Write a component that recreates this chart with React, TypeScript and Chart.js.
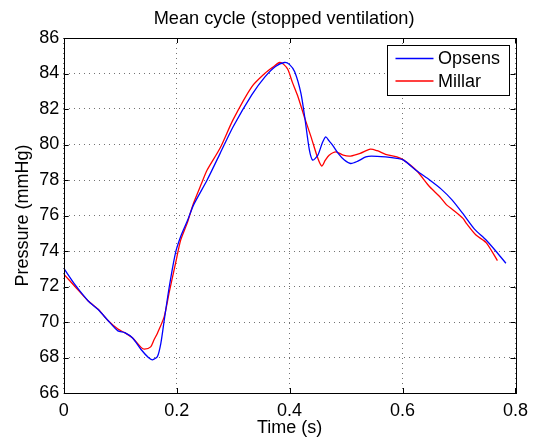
import React, { useEffect, useRef } from 'react';
import { Chart, registerables } from 'chart.js';

Chart.register(...registerables);

const titleText = 'Mean cycle (stopped ventilation)';
const xLabel = 'Time (s)';
const yLabel = 'Pressure (mmHg)';
const seriesNames = ['Opsens', 'Millar'];
const seriesColors = ['#0000ff', '#ff0000'];
const xTicks = [0, 0.2, 0.4, 0.6, 0.8];
const yTicks = [66, 68, 70, 72, 74, 76, 78, 80, 82, 84, 86];

const opsensTime = [
  0.0, 0.02, 0.043, 0.061, 0.078, 0.096, 0.108, 0.122, 0.137, 0.15, 0.157, 0.166, 0.172, 0.178,
  0.187, 0.198, 0.207, 0.219, 0.23, 0.254, 0.277, 0.3, 0.333, 0.356, 0.375, 0.391, 0.4, 0.409,
  0.42, 0.427, 0.435, 0.441, 0.45, 0.458, 0.464, 0.47, 0.476, 0.486, 0.497, 0.508, 0.52, 0.535,
  0.545, 0.57, 0.59, 0.602, 0.625, 0.648, 0.668, 0.688, 0.707, 0.727, 0.748, 0.765, 0.783,
];
const opsensPressure = [
  73.03, 72.1, 71.2, 70.7, 70.1, 69.5, 69.4, 69.1, 68.45, 68.0, 67.87, 68.06, 68.8, 70.1,
  72.0, 73.9, 74.8, 75.7, 76.6, 78.0, 79.5, 81.0, 82.8, 83.8, 84.4, 84.62, 84.5, 84.1,
  82.9, 81.5, 79.7, 79.12, 79.4, 80.1, 80.43, 80.2, 79.97, 79.5, 79.12, 78.93, 79.05, 79.3,
  79.35, 79.3, 79.22, 79.12, 78.52, 78.0, 77.5, 76.87, 76.1, 75.25, 74.62, 74.0, 73.31,
];

const millarTime = [
  0.0, 0.02, 0.043, 0.061, 0.078, 0.096, 0.108, 0.122, 0.137, 0.143, 0.154, 0.16, 0.166, 0.178,
  0.187, 0.198, 0.207, 0.219, 0.23, 0.244, 0.254, 0.277, 0.3, 0.333, 0.356, 0.37, 0.3825, 0.39,
  0.397, 0.405, 0.415, 0.427, 0.438, 0.45, 0.457, 0.463, 0.47, 0.482, 0.495, 0.508, 0.525, 0.543,
  0.555, 0.57, 0.59, 0.602, 0.625, 0.648, 0.666, 0.678, 0.69, 0.707, 0.713, 0.73, 0.748, 0.768,
];
const millarPressure = [
  72.7, 72.0, 71.2, 70.72, 70.1, 69.6, 69.4, 69.1, 68.57, 68.47, 68.6, 69.0, 69.37, 70.3,
  71.7, 73.3, 74.6, 75.6, 76.7, 77.8, 78.56, 79.8, 81.4, 83.25, 84.0, 84.35, 84.62, 84.5,
  84.22, 83.5, 82.68, 81.47, 80.43, 79.22, 78.78, 79.1, 79.4, 79.59, 79.4, 79.35, 79.5, 79.74,
  79.65, 79.45, 79.3, 79.12, 78.52, 77.62, 77.06, 76.6, 76.3, 75.84, 75.56, 74.9, 74.47, 73.46,
];

const FONT = '"Liberation Sans", Arial, Helvetica, sans-serif';
const FS = 18;

const toPoints = (xs: number[], ys: number[]) => xs.map((x, i) => ({ x, y: ys[i] }));

const matlabPlugin = {
  id: 'matlabFrame',
  afterDraw(chart: any) {
    const { ctx, chartArea } = chart;
    const { left, right, top, bottom } = chartArea;
    const xs = chart.scales.x;
    const ys = chart.scales.y;
    ctx.save();
    ctx.strokeStyle = '#000';
    ctx.lineWidth = 1;
    ctx.setLineDash([]);
    // box
    ctx.strokeRect(Math.round(left) + 0.5, Math.round(top) + 0.5, Math.round(right - left), Math.round(bottom - top));
    // inner ticks
    const tl = 5;
    ctx.beginPath();
    xTicks.forEach((v) => {
      const px = Math.round(xs.getPixelForValue(v)) + 0.5;
      ctx.moveTo(px, bottom);
      ctx.lineTo(px, bottom - tl);
      ctx.moveTo(px, top);
      ctx.lineTo(px, top + tl);
    });
    yTicks.forEach((v) => {
      const py = Math.round(ys.getPixelForValue(v)) + 0.5;
      ctx.moveTo(left, py);
      ctx.lineTo(left + tl, py);
      ctx.moveTo(right, py);
      ctx.lineTo(right - tl, py);
    });
    ctx.stroke();

    // title
    ctx.fillStyle = '#000';
    ctx.font = `${FS + 0.2}px ${FONT}`;
    ctx.textAlign = 'center';
    ctx.textBaseline = 'alphabetic';
    ctx.fillText(titleText, (left + right) / 2 - 5.5, top - 14);

    // legend
    const bx = right - 128;
    const by = top + 6.5;
    const bw = 122;
    const bh = 50;
    ctx.fillStyle = '#fff';
    ctx.fillRect(bx, by, bw, bh);
    ctx.strokeStyle = '#000';
    ctx.strokeRect(Math.round(bx) + 0.5, Math.round(by) + 0.5, bw, bh);
    seriesNames.forEach((name, i) => {
      const ly = by + 14 + i * 22.5;
      ctx.strokeStyle = seriesColors[i];
      ctx.lineWidth = 1.3;
      ctx.beginPath();
      ctx.moveTo(bx + 8, ly);
      ctx.lineTo(bx + 46, ly);
      ctx.stroke();
      ctx.fillStyle = '#000';
      ctx.textAlign = 'left';
      ctx.textBaseline = 'middle';
      ctx.font = `${FS}px ${FONT}`;
      ctx.fillText(name, bx + 50.5, ly + 1);
    });
    ctx.restore();
  },
};

export default function App() {
  const ref = useRef<HTMLCanvasElement | null>(null);
  useEffect(() => {
    if (!ref.current) return;
    const chart = new Chart(ref.current, {
      type: 'line',
      data: {
        datasets: [
          {
            label: seriesNames[0],
            data: toPoints(opsensTime, opsensPressure),
            borderColor: seriesColors[0],
            borderWidth: 1.3,
            pointRadius: 0,
            tension: 0.25,
            fill: false,
          },
          {
            label: seriesNames[1],
            data: toPoints(millarTime, millarPressure),
            borderColor: seriesColors[1],
            borderWidth: 1.3,
            pointRadius: 0,
            tension: 0.25,
            fill: false,
          },
        ],
      },
      options: {
        animation: false,
        responsive: false,
        maintainAspectRatio: false,
        events: [],
        layout: { padding: { top: 38, right: 14.5, left: 0, bottom: 0 } },
        plugins: { legend: { display: false }, title: { display: false }, tooltip: { enabled: false } },
        scales: {
          x: {
            type: 'linear',
            min: 0,
            max: 0.8,
            afterFit: (s: any) => {
              s.height = 52;
            },
            afterBuildTicks: (s: any) => {
              s.ticks = xTicks.map((v) => ({ value: v }));
            },
            grid: { color: 'rgba(0,0,0,0.55)', lineWidth: 1, drawTicks: false },
            border: { display: false, dash: [1, 4] },
            ticks: {
              padding: 7,
              color: '#000',
              font: { family: FONT, size: FS },
              maxRotation: 0,
              autoSkip: false,
              callback: (v: any) => String(Number(v)),
            },
            title: {
              display: true,
              text: xLabel,
              color: '#000',
              font: { family: FONT, size: FS },
              padding: { top: 0, bottom: 6 },
            },
          },
          y: {
            type: 'linear',
            min: 66,
            max: 86,
            afterFit: (s: any) => {
              s.width = 63.7;
            },
            afterBuildTicks: (s: any) => {
              s.ticks = yTicks.map((v) => ({ value: v }));
            },
            grid: { color: 'rgba(0,0,0,0.55)', lineWidth: 1, drawTicks: false },
            border: { display: false, dash: [1, 4] },
            ticks: {
              padding: 4.4,
              color: '#000',
              font: { family: FONT, size: FS },
              autoSkip: false,
              callback: (v: any) => String(Number(v)),
            },
            title: {
              display: true,
              text: yLabel,
              color: '#000',
              font: { family: FONT, size: FS },
              padding: { top: 12.5, bottom: 0 },
            },
          },
        },
      },
      plugins: [matlabPlugin],
    } as any);
    return () => chart.destroy();
  }, []);
  return (
    <div style={{ position: 'fixed', left: 0, top: 0, width: 535, height: 445, background: '#fff' }}>
      <canvas ref={ref} width={535} height={445} style={{ width: 535, height: 445, display: 'block' }} />
    </div>
  );
}
